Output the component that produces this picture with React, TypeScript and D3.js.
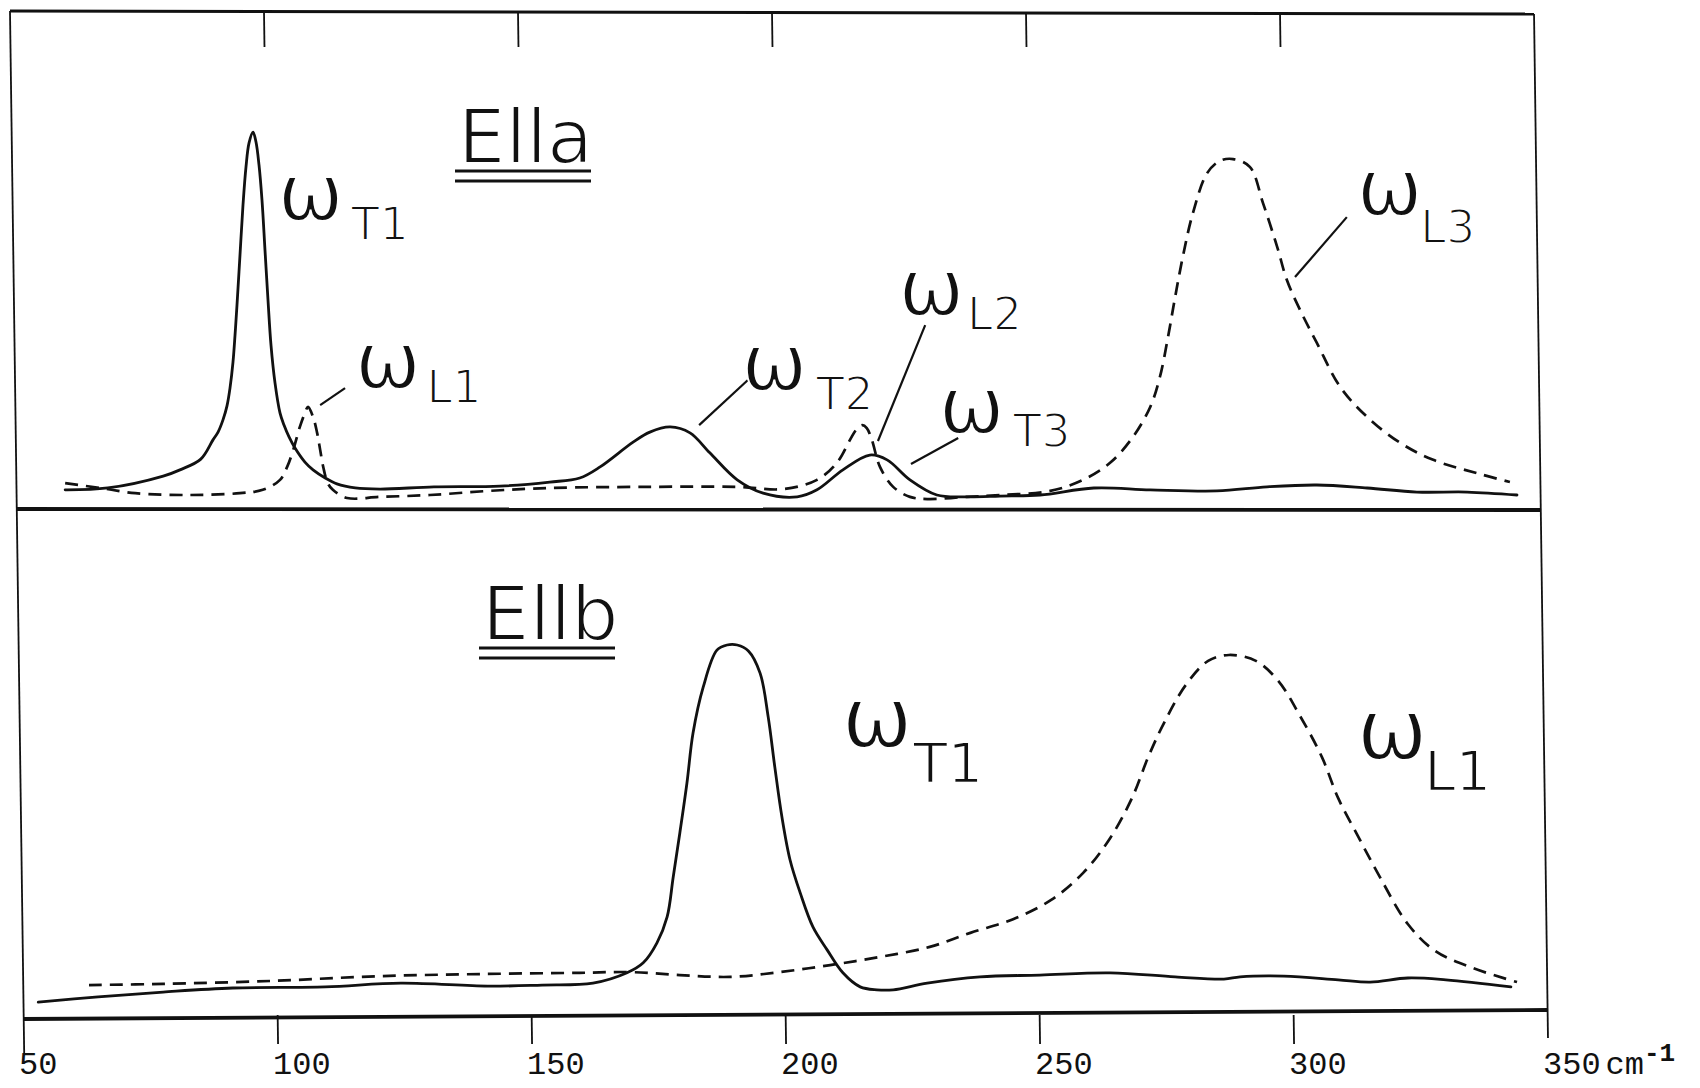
import React from "react";
import * as d3 from "d3";

// ---------- data (wavenumber in cm^-1, relative intensity) ----------
const topSolid: [number, number][] = [
  [58.1, 4.1], [66.5, 4.6], [77.4, 7.8], [80.7, 9.5], [84.8, 12.4], [87.2, 17.6], [88.2, 19.7],
  [89.17, 23.0], [89.96, 26.8], [90.55, 31.6], [91.14, 38.6], [91.54, 45.9], [91.93, 54.1],
  [92.52, 67.6], [93.11, 81.1], [93.7, 91.4], [94.29, 97.8], [95.08, 100.8], [95.67, 98.1],
  [96.26, 91.9], [96.85, 82.4], [97.44, 68.9], [98.03, 55.4], [98.62, 43.2], [99.41, 33.0],
  [100.39, 24.9], [101.18, 21.6], [102.17, 18.4], [103.35, 15.4], [105.3, 11.6], [106.9, 9.5],
  [109.3, 7.3], [111.6, 5.7], [115.2, 4.6], [120.1, 4.3], [130.7, 4.9], [143.7, 5.1], [153.5, 6.2],
  [159.4, 7.3], [163.4, 10.3], [169.9, 17.0], [173.2, 19.7], [177.2, 21.1], [181.1, 19.5], [185.0, 14.1],
  [190.4, 6.8], [195.5, 3.2], [202.2, 2.2], [206.1, 4.1], [211.2, 9.5], [216.5, 13.5], [219.9, 12.2],
  [224.4, 6.8], [229.7, 2.7], [235.6, 2.2], [242.1, 2.4], [250.0, 2.7], [260.6, 4.6], [271.7, 4.1],
  [284.8, 3.8], [294.7, 4.9], [304.5, 5.4], [314.4, 4.6], [324.2, 3.5], [334.1, 3.5], [343.9, 2.7],
];

const topDashed: [number, number][] = [
  [58.1, 5.9], [65.0, 4.6], [71.9, 3.2], [82.7, 2.7], [92.5, 3.2], [97.0, 4.1], [100.4, 6.8],
  [101.8, 10.3], [103.0, 14.9], [104.3, 21.1], [105.3, 24.9], [105.9, 26.5], [106.9, 23.8],
  [107.7, 19.5], [108.3, 14.9], [108.9, 10.3], [109.8, 5.9], [110.8, 4.1], [113.6, 1.9], [120.1, 2.2],
  [129.9, 2.7], [141.3, 3.8], [153.5, 4.6], [173.2, 4.9], [190.4, 4.9], [199.4, 4.3], [206.1, 6.8],
  [210.0, 11.4], [212.6, 17.6], [213.8, 20.3], [215.0, 21.6], [215.9, 20.8], [216.9, 17.6],
  [218.5, 10.3], [221.1, 4.9], [224.4, 2.2], [227.8, 1.6], [235.6, 2.2], [242.1, 2.7], [252.0, 3.8],
  [258.5, 6.8], [263.8, 11.4], [268.3, 18.4], [271.7, 26.5], [273.6, 34.6], [275.2, 45.4],
  [276.6, 56.2], [278.1, 67.0], [280.1, 78.9], [282.9, 89.7], [285.4, 93.0], [288.0, 93.5],
  [291.3, 91.4], [293.9, 81.6], [296.7, 69.7], [298.6, 60.8], [301.2, 52.7], [304.5, 43.8],
  [309.1, 31.9], [314.4, 23.8], [320.9, 16.8], [327.4, 12.2], [336.0, 8.6], [342.5, 6.2],
];

const bottomSolid: [number, number][] = [
  [52.8, 3.5], [64.6, 4.9], [77.4, 6.2], [91.1, 7.3], [109.3, 7.6], [124.2, 8.6], [141.3, 7.8],
  [152.0, 8.1], [162.0, 8.6], [168.7, 11.4], [171.9, 14.1], [174.6, 19.5], [176.6, 26.5],
  [177.8, 37.3], [179.1, 49.2], [180.5, 62.7], [181.7, 76.2], [183.7, 88.6], [186.4, 98.6],
  [188.4, 100], [190.4, 100], [192.6, 98.4], [194.9, 92.4], [196.5, 80.5], [197.8, 67.0],
  [199.2, 53.5], [200.8, 41.9], [202.8, 33.0], [205.3, 23.8], [208.1, 17.6], [211.2, 11.4],
  [214.6, 7.6], [217.9, 6.8], [221.1, 6.8], [227.8, 8.6], [238.2, 10.3], [250.0, 10.8],
  [263.8, 11.4], [276.6, 10.3], [286.2, 9.7], [289.4, 10.3], [298.0, 10.5], [308.7, 9.5], [315.0, 8.9],
  [322.4, 10.0], [329.9, 9.5], [342.7, 7.6],
];

const bottomDashed: [number, number][] = [
  [62.8, 8.1], [77.4, 8.4], [98.6, 9.2], [119.9, 10.5], [141.3, 11.1], [159.4, 11.4], [169.3, 11.6],
  [179.1, 10.8], [189.0, 10.3], [198.8, 11.6], [208.7, 13.5], [218.5, 15.7], [228.3, 18.4],
  [236.3, 22.2], [244.7, 25.9], [252.2, 31.1], [258.5, 38.4], [263.8, 47.8], [268.1, 58.6],
  [271.3, 69.7], [274.4, 78.9], [278.7, 89.2], [283.1, 95.7], [287.2, 97.3], [292.5, 95.7],
  [296.9, 90.3], [301.2, 80.8], [305.5, 69.7], [308.7, 58.6], [312.8, 47.8], [317.1, 36.8],
  [322.4, 24.6], [327.8, 17.3], [335.2, 12.7], [343.9, 8.9],
];

const tickValues = [50, 100, 150, 200, 250, 300, 350];
const innerTicks = [100, 150, 200, 250, 300];
const unitMain = "cm";
const unitSup = "-1";
const panelTitles = ["Ella", "Ellb"];

// annotation labels: ω with subscript, anchored in data space (x, intensity)
const topLabels = [
  { sub: "T1", x: 100.0, y: 77.0, dx: 8, drop: 20 },
  { sub: "L1", x: 115.2, y: 31.6, dx: 6, drop: 15 },
  { sub: "T2", x: 191.3, y: 31.1, dx: 9, drop: 20 },
  { sub: "L2", x: 222.2, y: 51.4, dx: 3, drop: 15 },
  { sub: "T3", x: 230.1, y: 19.5, dx: 9, drop: 14 },
  { sub: "L3", x: 312.4, y: 78.4, dx: -2, drop: 28 },
];
const bottomLabels = [
  { sub: "T1", x: 211.0, y: 72.4, dx: 1, drop: 35 },
  { sub: "L1", x: 312.4, y: 69.2, dx: -3, drop: 31 },
];
// leader lines [x1, y1, x2, y2] in data space
const topLeaders: [number, number, number, number][] = [
  [108.3, 27.0, 113.2, 31.6],
  [182.9, 21.6, 192.5, 33.8],
  [218.1, 17.3, 227.4, 48.6],
  [224.6, 11.1, 233.9, 18.1],
  [300.2, 61.6, 310.4, 77.8],
];

type Label = { sub: string; x: number; y: number; dx: number; drop: number };

export default function App() {
  const W = 1700;
  const H = 1088;
  const x = d3.scaleLinear().domain([50, 350]).range([24, 1548]);
  const yTop = d3.scaleLinear().domain([0, 100]).range([505, 135]);
  const yBot = d3.scaleLinear().domain([0, 100]).range([1015, 645]);

  const mk = (y: d3.ScaleLinear<number, number>) =>
    d3
      .line<[number, number]>()
      .x((d) => x(d[0]))
      .y((d) => y(d[1]))
      .curve(d3.curveCatmullRom.alpha(0.5));
  const lTop = mk(yTop);
  const lBot = mk(yBot);

  const ink = "#111";
  const letterFont = "'DejaVu Sans', 'Liberation Sans', sans-serif";
  const tickFont = "'Liberation Mono', 'DejaVu Sans Mono', monospace";

  // frame (slightly skewed like the scanned original)
  const skew = "translate(0,1040) skewX(0.78) translate(0,-1040)";
  const xL = x(50);
  const xR = x(350);

  const renderLabel = (
    l: Label,
    y: d3.ScaleLinear<number, number>,
    key: string,
    wSize: number,
    sSize: number
  ) => (
    <text
      key={key}
      x={x(l.x)}
      y={y(l.y)}
      fill={ink}
      fontFamily={letterFont}
      fontSize={wSize}
      stroke="#fff"
      strokeWidth={1.8}
    >
      <tspan>ω</tspan>
      <tspan fontSize={sSize} dx={l.dx} dy={l.drop}>
        {l.sub}
      </tspan>
    </text>
  );

  const title = (t: string, tx: number, ty: number, key: string) => (
    <g key={key}>
      <text x={tx} y={ty} fontSize={75} fontFamily={letterFont} fill={ink} stroke="#fff" strokeWidth={2.2}>
        {t}
      </text>
      <line x1={tx - 3} x2={tx + 133} y1={ty + 8} y2={ty + 8} stroke={ink} strokeWidth={3} />
      <line x1={tx - 3} x2={tx + 133} y1={ty + 18} y2={ty + 18} stroke={ink} strokeWidth={3} />
    </g>
  );

  return (
    <svg
      width={W}
      height={H}
      viewBox={`0 0 ${W} ${H}`}
      style={{ position: "absolute", left: 0, top: 0, background: "#fff" }}
    >
      <rect x={0} y={0} width={W} height={H} fill="#fff" />
      <g transform={skew} stroke={ink} fill="none">
        {/* top border */}
        <line x1={xL} x2={xR} y1={11} y2={14} strokeWidth={3.2} />
        {/* separator */}
        <line x1={xL} x2={xR} y1={509} y2={510} strokeWidth={3.8} />
        {/* bottom axis */}
        <line x1={xL} x2={xR} y1={1019} y2={1010} strokeWidth={3.8} />
        {/* left / right borders */}
        <line x1={xL} x2={xL} y1={11} y2={1055} strokeWidth={1.8} />
        <line x1={xR} x2={xR} y1={14} y2={1038} strokeWidth={1.8} />
        {/* top ticks */}
        {innerTicks.map((v) => (
          <line key={"tt" + v} x1={x(v)} x2={x(v)} y1={13} y2={47} strokeWidth={1.8} />
        ))}
        {/* bottom ticks */}
        {innerTicks.map((v) => (
          <line key={"bt" + v} x1={x(v)} x2={x(v)} y1={1015} y2={1044} strokeWidth={1.8} />
        ))}
      </g>

      {/* tick labels */}
      <g fill={ink} fontFamily={tickFont} fontSize={32}>
        {tickValues.map((v) => (
          <text key={"tl" + v} x={x(v) - 5} y={1074}>
            {v}
            {v === 350 ? (
              <>
                <tspan dx={5}>{unitMain}</tspan>
                <tspan dy={-13} fontSize={26} fontWeight="bold">
                  {unitSup}
                </tspan>
              </>
            ) : null}
          </text>
        ))}
      </g>

      {/* curves */}
      <g fill="none" stroke={ink} strokeLinejoin="round" strokeLinecap="round">
        <path d={lTop(topSolid) || ""} strokeWidth={2.8} />
        <path d={lTop(topDashed) || ""} strokeWidth={2.7} strokeDasharray="13 8" strokeLinecap="butt" />
        <path d={lBot(bottomSolid) || ""} strokeWidth={2.8} />
        <path d={lBot(bottomDashed) || ""} strokeWidth={2.7} strokeDasharray="13 8" strokeLinecap="butt" />
      </g>

      {/* leader lines */}
      <g stroke={ink} strokeWidth={2.2}>
        {topLeaders.map((d, i) => (
          <line key={"ld" + i} x1={x(d[0])} y1={yTop(d[1])} x2={x(d[2])} y2={yTop(d[3])} />
        ))}
      </g>

      {/* labels */}
      {topLabels.map((l, i) => renderLabel(l, yTop, "t" + i, 78, 46))}
      {bottomLabels.map((l, i) => renderLabel(l, yBot, "b" + i, 84, 56))}

      {title(panelTitles[0], 458, 163, "title0")}
      {title(panelTitles[1], 482, 640, "title1")}
    </svg>
  );
}
